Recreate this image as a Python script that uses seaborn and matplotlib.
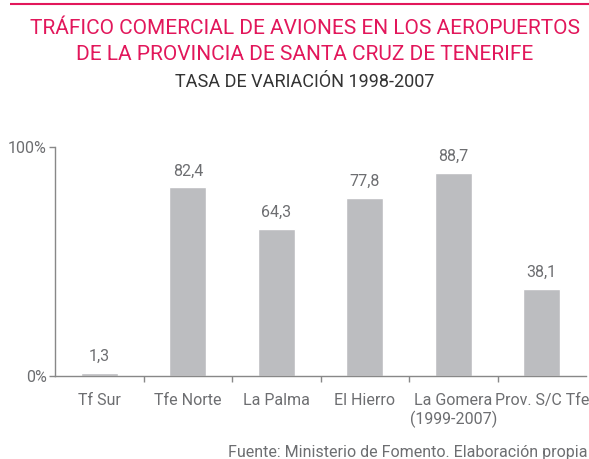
import matplotlib
matplotlib.use("Agg")
import matplotlib.pyplot as plt
import pandas as pd
import seaborn as sns

categories = ["Tf Sur", "Tfe Norte", "La Palma", "El Hierro", "La Gomera\n(1999-2007)", "Prov. S/C Tfe"]
values = [1.3, 82.4, 64.3, 77.8, 88.7, 38.1]
value_labels = ["1,3", "82,4", "64,3", "77,8", "88,7", "38,1"]

df = pd.DataFrame({"aeropuerto": categories, "variacion": values})

sns.set_theme(style="white")
plt.rcParams["font.family"] = ["Roboto", "DejaVu Sans"]

grey_text = "#6d6e71"
red = "#e2175b"

fig = plt.figure(figsize=(5.89, 4.59), dpi=100)

# overlay in pixel coords for the decorative rule at the top
deco = fig.add_axes([0, 0, 1, 1], zorder=5)
deco.set_xlim(0, 589)
deco.set_ylim(459, 0)
deco.axis("off")
deco.hlines(3.5, 10, 589, color=red, lw=1.5)

ax = fig.add_axes([55 / 589, 1 - 376 / 459, 531 / 589, 229 / 459])

sns.barplot(data=df, x="aeropuerto", y="variacion", color="#bcbdc0", width=0.42,
            saturation=1, ax=ax)

for i, (v, lab) in enumerate(zip(values, value_labels)):
    ax.text(i, v + 3.8, lab, ha="center", va="bottom", fontsize=11.5, color=grey_text)

ax.set_xlim(-0.5, 5.5)
ax.set_ylim(0, 100)
ax.set_yticks([0, 100])
ax.set_yticklabels(["0%", "100%"], fontsize=11.5, color=grey_text)
ax.set_xticks(range(len(categories)))
ax.set_xticklabels(categories, fontsize=11.5, color=grey_text)
ax.set_xticks([i + 0.5 for i in range(5)], minor=True)
ax.tick_params(axis="x", which="major", length=0, pad=12)
ax.tick_params(axis="x", which="minor", length=4, width=1, color="#888888", direction="out", bottom=True)
ax.tick_params(axis="y", length=4, width=1, color="#888888", direction="out", left=True, pad=2)
ax.set_xlabel("")
ax.set_ylabel("")
for s in ["top", "right"]:
    ax.spines[s].set_visible(False)
for s in ["left", "bottom"]:
    ax.spines[s].set_color("#888888")
    ax.spines[s].set_linewidth(1)

fig.text(305 / 589, 1 - 28 / 459, "TRÁFICO COMERCIAL DE AVIONES EN LOS AEROPUERTOS",
         ha="center", va="center", fontsize=15, color=red)
fig.text(305 / 589, 1 - 55 / 459, "DE LA PROVINCIA DE SANTA CRUZ DE TENERIFE",
         ha="center", va="center", fontsize=15, color=red)
fig.text(305 / 589, 1 - 82 / 459, "TASA DE VARIACIÓN 1998-2007",
         ha="center", va="center", fontsize=13, color="#333333")
fig.text(587 / 589, 1 - 452 / 459, "Fuente: Ministerio de Fomento. Elaboración propia",
         ha="right", va="center", fontsize=11.5, color=grey_text)

fig.savefig("out.png", dpi=100)
